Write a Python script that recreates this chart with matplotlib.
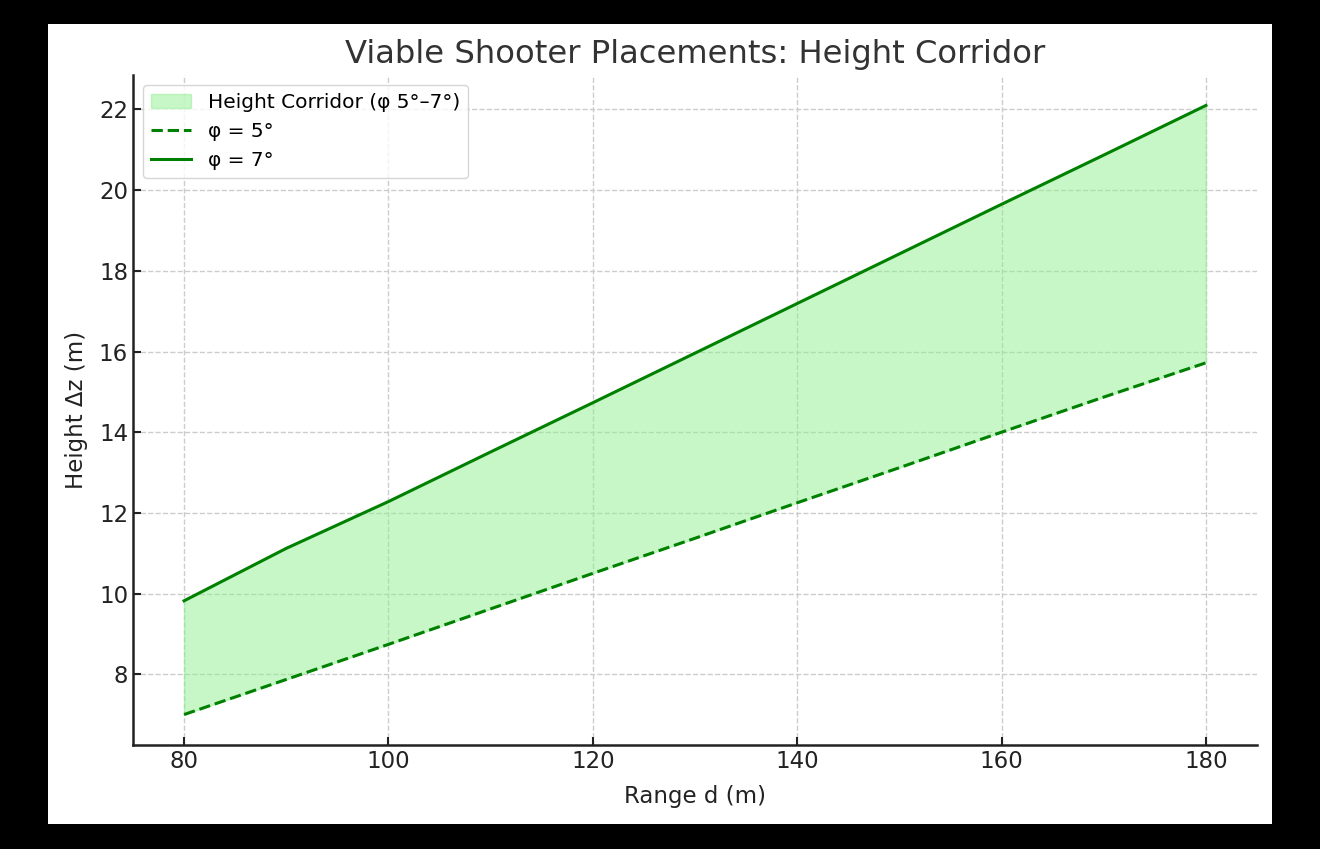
import matplotlib
matplotlib.use("Agg")
import matplotlib.pyplot as plt
from matplotlib.patches import Rectangle

# values
ranges = [80, 90, 100, 110, 120, 130, 140, 150, 160, 170, 180]
height_5deg = [7.00, 7.87, 8.74, 9.62, 10.50, 11.37, 12.25, 13.12, 14.00, 14.87, 15.72]
height_7deg = [9.82, 11.12, 12.28, 13.51, 14.73, 15.96, 17.19, 18.42, 19.65, 20.87, 22.10]

fig = plt.figure(figsize=(13.2, 8.49), dpi=100, facecolor="black")
# white canvas inside the black frame
fig.patches.append(Rectangle((48 / 1320, 25 / 849), 1224 / 1320, 800 / 849,
                             transform=fig.transFigure, facecolor="white",
                             edgecolor="none", zorder=-10))

ax = fig.add_axes([133 / 1320, 104 / 849, 1124 / 1320, 670 / 849])
ax.set_facecolor("white")

ax.fill_between(ranges, height_5deg, height_7deg, color="lightgreen", alpha=0.5,
                label="Height Corridor (φ 5°–7°)")
ax.plot(ranges, height_5deg, "--", color="green", lw=2.2, label="φ = 5°")
ax.plot(ranges, height_7deg, "-", color="green", lw=2.2, label="φ = 7°")

ax.set_title("Viable Shooter Placements: Height Corridor", fontsize=23.2, color="#333333", pad=9)
ax.set_xlabel("Range d (m)", fontsize=16.5, color="#222222", labelpad=9)
ax.set_ylabel("Height Δz (m)", fontsize=16.5, color="#222222", labelpad=8)
ax.tick_params(direction="in", labelsize=16.5, length=6, width=1.5, colors="#222222")
ax.set_yticks([8, 10, 12, 14, 16, 18, 20, 22])
ax.grid(True, linestyle="--", color="#cccccc", linewidth=1)
ax.set_axisbelow(True)
for s in ["top", "right"]:
    ax.spines[s].set_visible(False)
for s in ["left", "bottom"]:
    ax.spines[s].set_linewidth(1.8)
    ax.spines[s].set_color("#222222")

leg = ax.legend(loc="upper left", fontsize=14.5, framealpha=0.8, edgecolor="#cccccc")

fig.savefig("out.png", dpi=100, facecolor=fig.get_facecolor())
